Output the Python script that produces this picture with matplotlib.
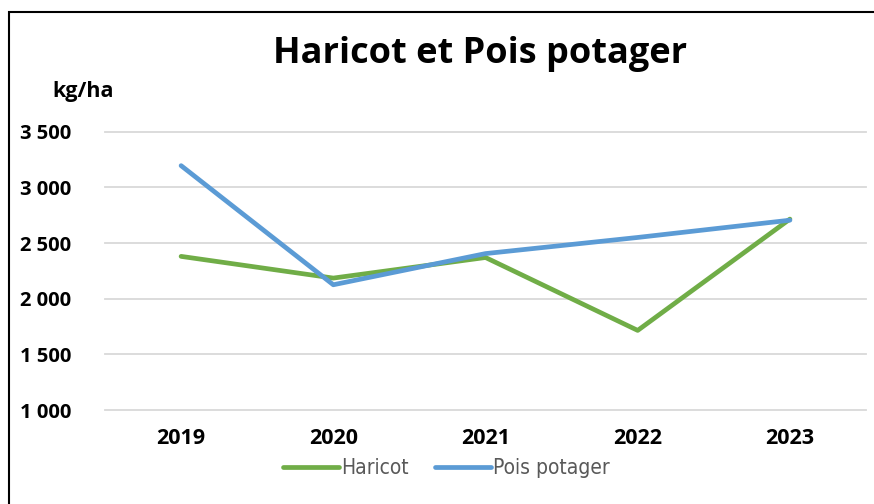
import matplotlib
matplotlib.use("Agg")
import matplotlib.pyplot as plt
from matplotlib.patches import Rectangle

years = ["2019", "2020", "2021", "2022", "2023"]
haricot = [2380, 2185, 2370, 1715, 2715]
pois = [3195, 2125, 2405, 2550, 2705]
yticks = [1000, 1500, 2000, 2500, 3000, 3500]
ytick_labels = ["1 000", "1 500", "2 000", "2 500", "3 000", "3 500"]

W, H = 874, 504
fig = plt.figure(figsize=(W / 100, H / 100), dpi=100)
fig.patch.set_facecolor("white")

main_font = ["Open Sans", "DejaVu Sans"]

ax = fig.add_axes([105 / W, 1 - 410 / H, (866 - 105) / W, (410 - 131.7) / H])
x = list(range(len(years)))
ax.plot(x, haricot, color="#70AD47", lw=3.4, solid_capstyle="round", label="Haricot", zorder=3)
ax.plot(x, pois, color="#5B9BD5", lw=3.4, solid_capstyle="round", label="Pois potager", zorder=4)

ax.set_xlim(-0.5, len(years) - 0.5)
ax.set_ylim(1000, 3500)
ax.set_yticks(yticks)
ax.set_yticklabels(ytick_labels)
ax.set_xticks(x)
ax.set_xticklabels(years)
for s in ax.spines.values():
    s.set_visible(False)
ax.tick_params(length=0)
ax.grid(axis="y", color="#D9D9D9", lw=1.3)
ax.set_axisbelow(True)
for gl in ax.get_ygridlines():
    gl.set_clip_on(False)

for lab in ax.get_yticklabels():
    lab.set_fontfamily(main_font)
    lab.set_fontweight("bold")
    lab.set_fontsize(14.5)
    lab.set_horizontalalignment("left")
ax.tick_params(axis="y", pad=(105 - 19.5) * 0.72)
for lab in ax.get_xticklabels():
    lab.set_fontfamily(main_font)
    lab.set_fontweight("bold")
    lab.set_fontsize(15.5)
ax.tick_params(axis="x", pad=13)

fig.text(480 / W, 1 - 54 / H, "Haricot et Pois potager", ha="center", va="center",
         fontsize=26, fontweight="bold", fontfamily=main_font)
fig.text(52 / W, 1 - 92 / H, "kg/ha", ha="left", va="center",
         fontsize=15.5, fontweight="bold", fontfamily=main_font)

leg = fig.legend(loc="center", bbox_to_anchor=(446 / W, 1 - 468 / H), ncol=2, frameon=False,
                 prop={"family": "DejaVu Sans", "stretch": "condensed", "size": 15},
                 handlelength=2.7, handletextpad=0.1, columnspacing=1.25)
for t in leg.get_texts():
    t.set_color("#595959")
for h in leg.get_lines():
    h.set_linewidth(3.4)
    h.set_solid_capstyle("round")

fig.patches.append(Rectangle((9 / W, -0.1), 1.1, 1 - 12 / H + 0.1, transform=fig.transFigure,
                             fill=False, edgecolor="black", lw=1.5, zorder=10))

fig.savefig("out.png", dpi=100)
